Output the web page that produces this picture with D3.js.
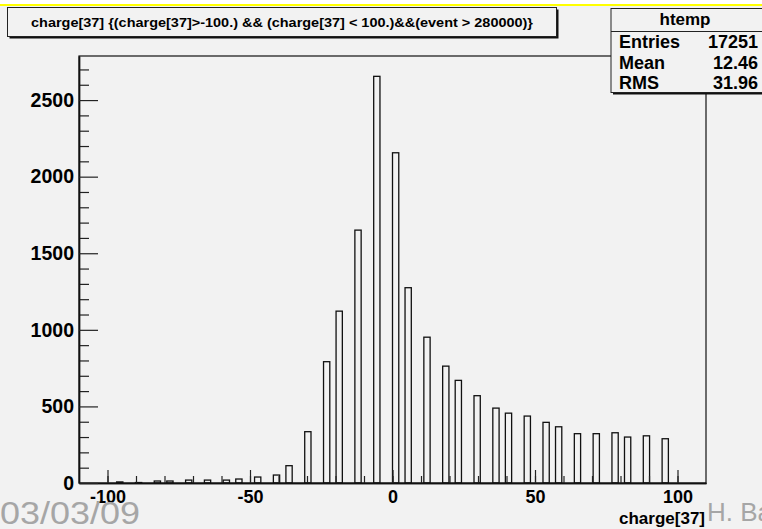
<!DOCTYPE html>
<html>
<head>
<meta charset="utf-8">
<script src="https://cdn.jsdelivr.net/npm/d3@7"></script>
<style>
  html, body { margin: 0; padding: 0; background: #f2f2f2; }
  svg { display: block; }
  text { font-family: "Liberation Sans", Arial, Helvetica, sans-serif; }
</style>
</head>
<body>
<svg id="chart" width="762" height="529"></svg>
<script>
// Histogram of charge[37]: 100 bins of width 2.2 over [-110, 110].
// Only the filled bins are listed (lower bin edge and content).
const binLow = [-96.8, -90.2, -83.6, -79.2, -72.6, -66.0, -59.4, -55.0, -48.4, -41.8,
                -37.4, -30.8, -24.2, -19.8, -13.2, -6.6, 0.0, 4.4, 11.0, 17.6,
                22.0, 28.6, 35.2, 39.6, 46.2, 52.8, 57.2, 63.8, 70.4, 77.0,
                81.4, 88.0, 94.6];
const counts = [7, 3, 13, 13, 19, 19, 19, 26, 39, 52,
                113, 335, 792, 1122, 1651, 2655, 2156, 1275, 952, 763,
                670, 570, 489, 456, 437, 396, 367, 322, 322, 328,
                300, 308, 289];
const binWidth = 2.2;
const xRange = [-110, 110];

const xMajor = [-100, -50, 0, 50, 100];
const xMinor = [-100, -90, -80, -70, -60, -50, -40, -30, -20, -10, 0, 10, 20, 30, 40, 50, 60, 70, 80, 90, 100];
const yMajor = [0, 500, 1000, 1500, 2000, 2500];
const yMinor = [100, 200, 300, 400, 600, 700, 800, 900, 1100, 1200, 1300, 1400, 1600, 1700, 1800, 1900, 2100, 2200, 2300, 2400, 2600, 2700];

const histTitle = "charge[37] {(charge[37]>-100.) && (charge[37] < 100.)&&(event > 280000)}";
const statName = "htemp";
const statLabels = ["Entries", "Mean", "RMS"];
const statValues = ["17251", "12.46", "31.96"];
const xTitle = "charge[37]";
const footerLeft = "03/03/09";
const footerRight = "H. Ba";

const svg = d3.select("#chart");
const bg = "#f2f2f2";

// plain integer labels with an ASCII hyphen for negatives
const intLabel = (d) => String(Math.round(d));

// slide strip at the top
svg.append("rect").attr("x", 0).attr("y", 0).attr("width", 762).attr("height", 4).attr("fill", "#ffffff");
svg.append("rect").attr("x", 0).attr("y", 4).attr("width", 762).attr("height", 2).attr("fill", "#ffff00");

const frame = { left: 79, right: 706, top: 56, bottom: 483 };
const x = d3.scaleLinear().domain(xRange).range([frame.left, frame.right]);
const yMax = d3.max(counts) * 1.05;
const y = d3.scaleLinear().domain([0, yMax]).range([frame.bottom, frame.top]);

// frame
svg.append("rect")
  .attr("x", frame.left).attr("y", frame.top)
  .attr("width", frame.right - frame.left).attr("height", frame.bottom - frame.top)
  .attr("fill", bg).attr("stroke", "#111").attr("stroke-width", 1.2);

// bars
svg.append("g").selectAll("rect").data(binLow).join("rect")
  .attr("x", (d) => x(d))
  .attr("y", (d, i) => y(counts[i]))
  .attr("width", (d) => x(d + binWidth) - x(d))
  .attr("height", (d, i) => y(0) - y(counts[i]))
  .attr("fill", "none")
  .attr("stroke", "#111")
  .attr("stroke-width", 1.3);

// x axis: ticks point up into the frame
const xAxisMinor = d3.axisBottom(x).tickValues(xMinor).tickSize(-7).tickSizeOuter(0).tickFormat("");
const gxm = svg.append("g").attr("transform", `translate(0,${frame.bottom})`).call(xAxisMinor);
const xAxis = d3.axisBottom(x).tickValues(xMajor).tickSize(-13).tickSizeOuter(0).tickPadding(7).tickFormat(intLabel);
const gx = svg.append("g").attr("transform", `translate(0,${frame.bottom})`).call(xAxis);

// y axis: ticks point right into the frame
const yAxisMinor = d3.axisLeft(y).tickValues(yMinor).tickSize(-10).tickSizeOuter(0).tickFormat("");
const gym = svg.append("g").attr("transform", `translate(${frame.left},0)`).call(yAxisMinor);
const yAxis = d3.axisLeft(y).tickValues(yMajor).tickSize(-19).tickSizeOuter(0).tickPadding(5).tickFormat(intLabel);
const gy = svg.append("g").attr("transform", `translate(${frame.left},0)`).call(yAxis);

[gx, gxm, gy, gym].forEach((g) => {
  g.select(".domain").attr("stroke", "#111").attr("stroke-width", 1.4);
  g.selectAll(".tick line").attr("stroke", "#222").attr("stroke-width", 1.2);
  g.selectAll(".tick text")
    .attr("fill", "#000")
    .attr("font-size", 18)
    .attr("font-weight", "bold")
    .attr("font-family", "'Liberation Sans', Arial, sans-serif");
});
gy.selectAll(".tick text").attr("font-size", 19.5);

// axis title
svg.append("text")
  .attr("x", 705).attr("y", 524)
  .attr("text-anchor", "end")
  .attr("font-size", 17).attr("font-weight", "bold")
  .text(xTitle);

// title pave with shadow
svg.append("rect").attr("x", 9.5).attr("y", 9.5).attr("width", 549).attr("height", 29).attr("fill", "#111");
svg.append("rect").attr("x", 7.5).attr("y", 7.5).attr("width", 549).attr("height", 29)
  .attr("fill", bg).attr("stroke", "#222").attr("stroke-width", 1);
svg.append("text")
  .attr("x", 282).attr("y", 26.5)
  .attr("text-anchor", "middle")
  .attr("font-size", 13.5).attr("font-weight", "bold")
  .attr("textLength", 502).attr("lengthAdjust", "spacingAndGlyphs")
  .text(histTitle);

// statistics box
const sb = { x: 611, y: 8.5, w: 160, h: 84 };
svg.append("rect").attr("x", sb.x + 2).attr("y", sb.y + 2).attr("width", sb.w).attr("height", sb.h).attr("fill", "#111");
svg.append("rect").attr("x", sb.x).attr("y", sb.y).attr("width", sb.w).attr("height", sb.h)
  .attr("fill", bg).attr("stroke", "#222").attr("stroke-width", 1);
svg.append("line").attr("x1", sb.x).attr("x2", sb.x + sb.w).attr("y1", 31.5).attr("y2", 31.5)
  .attr("stroke", "#222").attr("stroke-width", 1);
svg.append("text")
  .attr("x", 685).attr("y", 25)
  .attr("text-anchor", "middle")
  .attr("font-size", 17).attr("font-weight", "bold")
  .text(statName);
const rowY = [48, 69, 89];
statLabels.forEach((lab, i) => {
  svg.append("text").attr("x", 619).attr("y", rowY[i])
    .attr("font-size", 18).attr("font-weight", "bold").text(lab);
  svg.append("text").attr("x", 758).attr("y", rowY[i]).attr("text-anchor", "end")
    .attr("font-size", 18).attr("font-weight", "bold").text(statValues[i]);
});

// slide footer
svg.append("text")
  .attr("x", 0).attr("y", 524)
  .attr("font-family", "Lato, 'Open Sans', sans-serif")
  .attr("font-size", 31).attr("fill", "#a6a6a6")
  .attr("textLength", 140).attr("lengthAdjust", "spacingAndGlyphs")
  .text(footerLeft);
svg.append("text")
  .attr("x", 707).attr("y", 521)
  .attr("font-family", "Lato, 'Open Sans', sans-serif")
  .attr("font-size", 26).attr("fill", "#a6a6a6")
  .text(footerRight);
</script>
</body>
</html>
